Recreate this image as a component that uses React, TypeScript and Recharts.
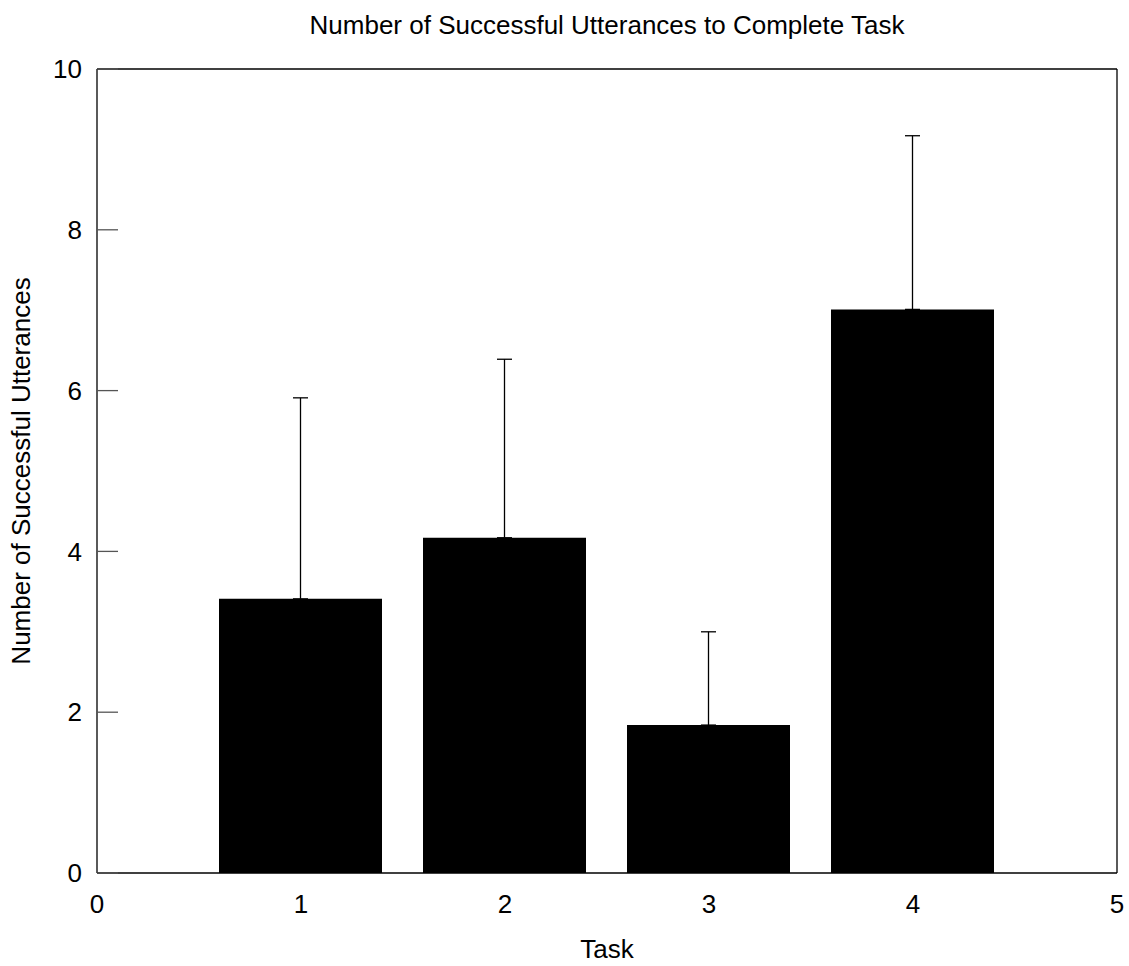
import { BarChart, Bar, XAxis, YAxis, ErrorBar } from 'recharts';

const tasks = [1, 2, 3, 4];
const meanUtterances = [3.41, 4.17, 1.84, 7.01];
const upperError = [2.5, 2.22, 1.16, 2.16];
const xTicks = [0, 1, 2, 3, 4, 5];
const yTicks = [0, 2, 4, 6, 8, 10];

const data = tasks.map((task, i) => ({
  task,
  mean: meanUtterances[i],
  err: [0, upperError[i]],
}));

const font = '"Liberation Sans", Arial, sans-serif';
const tickStroke = '#555';
const fontSize = 26;

export default function App() {
  return (
    <div style={{ position: 'relative', width: 1129, height: 966, fontFamily: font, overflow: 'hidden' }}>
      <style>{`body { margin: 0; overflow: hidden; }`}</style>
      <div
        style={{
          position: 'absolute',
          left: 97,
          width: 1020,
          top: 12,
          textAlign: 'center',
          fontSize,
          lineHeight: '26px',
          color: '#000',
        }}
      >
        Number of Successful Utterances to Complete Task
      </div>
      <BarChart
        width={1129}
        height={966}
        data={data}
        margin={{ top: 68, right: 0, bottom: 0, left: 0 }}
        style={{ fontFamily: font }}
      >
        <XAxis
          xAxisId="bottom"
          dataKey="task"
          type="number"
          domain={[0, 5]}
          ticks={xTicks}
          interval={0}
          height={93}
          tickSize={-21}
          tickMargin={43}
          axisLine={{ stroke: '#000', strokeWidth: 1.3 }}
          tickLine={false}
          tick={{ fill: '#000', fontSize }}
          label={{ value: 'Task', position: 'insideBottom', offset: 8, fill: '#000', fontSize }}
        />
        <XAxis
          xAxisId="top"
          orientation="top"
          dataKey="task"
          type="number"
          domain={[0, 5]}
          ticks={xTicks}
          interval={0}
          height={1}
          tickSize={-21}
          axisLine={{ stroke: '#000', strokeWidth: 1.3 }}
          tickLine={{ stroke: tickStroke, strokeWidth: 1.3 }}
          tick={false}
        />
        <YAxis
          yAxisId="left"
          type="number"
          domain={[0, 10]}
          ticks={yTicks}
          interval={0}
          width={97}
          tickSize={-21}
          tickMargin={36}
          axisLine={{ stroke: '#000', strokeWidth: 1.3 }}
          tickLine={{ stroke: tickStroke, strokeWidth: 1.3 }}
          tick={{ fill: '#000', fontSize }}
          label={{
            value: 'Number of Successful Utterances',
            angle: -90,
            position: 'insideLeft',
            offset: 21,
            fill: '#000',
            fontSize,
            style: { textAnchor: 'middle' },
          }}
        />
        <YAxis
          yAxisId="right"
          orientation="right"
          type="number"
          domain={[0, 10]}
          ticks={yTicks}
          interval={0}
          width={12}
          tickSize={-21}
          axisLine={{ stroke: '#000', strokeWidth: 1.3 }}
          tickLine={{ stroke: tickStroke, strokeWidth: 1.3 }}
          tick={false}
        />
        <Bar
          xAxisId="bottom"
          yAxisId="left"
          dataKey="mean"
          fill="#000"
          barSize={163}
          isAnimationActive={false}
        >
          <ErrorBar
            dataKey="err"
            direction="y"
            width={7.5}
            stroke="#000"
            strokeWidth={1.3}
            isAnimationActive={false}
          />
        </Bar>
      </BarChart>
    </div>
  );
}
